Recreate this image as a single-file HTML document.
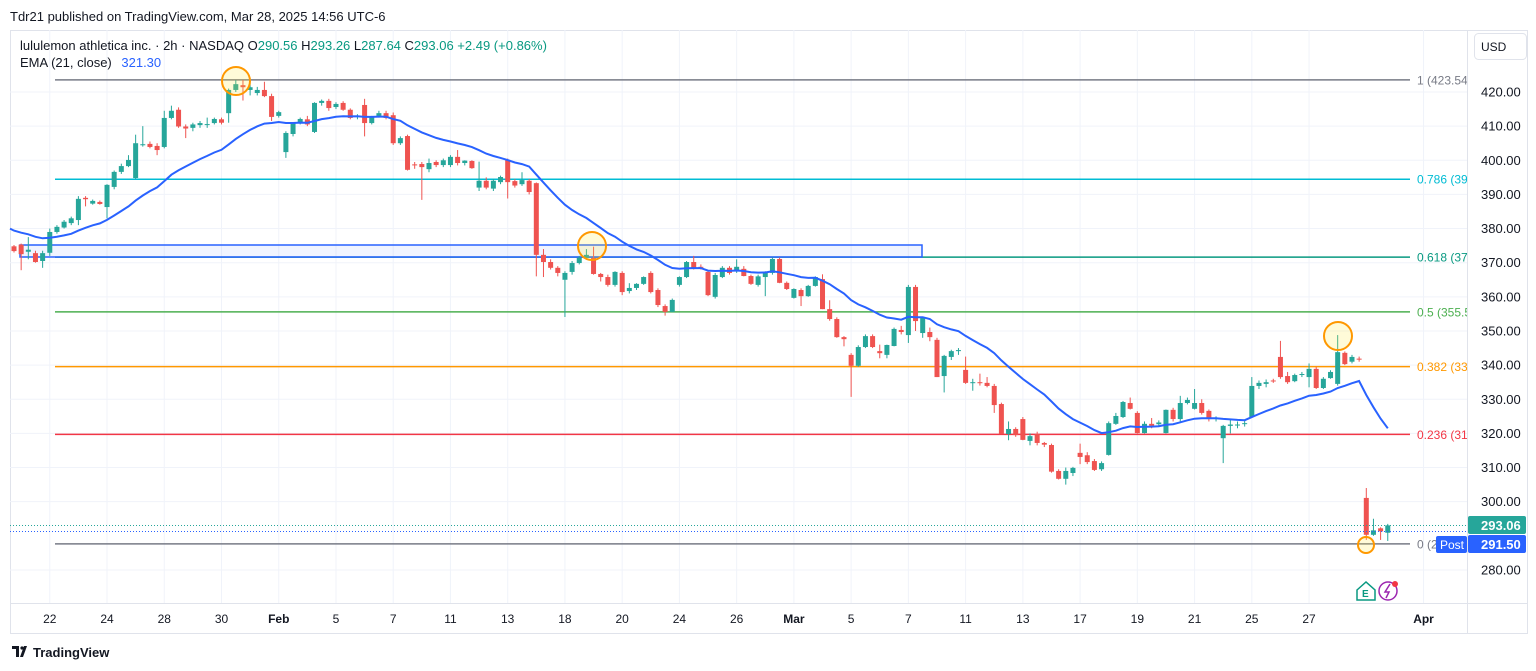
<!DOCTYPE html>
<html><head><meta charset="utf-8">
<style>
html,body{margin:0;padding:0;background:#fff;width:1536px;height:671px;overflow:hidden;font-family:"Liberation Sans",sans-serif;}
svg text{font-family:"Liberation Sans",sans-serif;}
</style></head>
<body>
<svg id="chart" width="1536" height="671" viewBox="0 0 1536 671" xmlns="http://www.w3.org/2000/svg">
<defs><clipPath id="pane"><rect x="10" y="30" width="1457" height="573"/></clipPath></defs>
<rect x="0" y="0" width="1536" height="671" fill="#fff"/>
<text x="10" y="21" font-size="13" fill="#131722">Tdr21 published on TradingView.com, Mar 28, 2025 14:56 UTC-6</text>
<rect x="10.5" y="30.5" width="1517" height="603" fill="none" stroke="#e0e3eb"/>
<g id="grid"></g>
<g id="fib" clip-path="url(#pane)"></g>
<rect x="20" y="245" width="902" height="12" fill="#2962ff" fill-opacity="0.07" stroke="#2962ff" stroke-width="1.5"/>
<g id="candles"></g>
<path id="ema" fill="none" stroke="#2962ff" stroke-width="2"/>
<g id="circles"></g>
<line x1="10" x2="1467" y1="525.5" y2="525.5" stroke="#26a69a" stroke-dasharray="1,2"/>
<line x1="10" x2="1467" y1="531.5" y2="531.5" stroke="#2962ff" stroke-dasharray="1,2"/>
<line x1="1467.5" x2="1467.5" y1="30" y2="633" stroke="#e0e3eb"/>
<line x1="10" x2="1527" y1="603.5" y2="603.5" stroke="#e0e3eb"/>
<g id="yaxis"></g>
<g id="xaxis"></g>
<rect x="1474.5" y="33.5" width="52" height="26" rx="4" fill="#fff" stroke="#e0e3eb"/>
<text x="1481" y="51" font-size="12" fill="#131722">USD</text>
<rect x="1468" y="516" width="58" height="18" rx="2" fill="#26a69a"/>
<text x="1481" y="530" font-size="13" font-weight="bold" fill="#fff">293.06</text>
<rect x="1436" y="536" width="31" height="17" rx="2" fill="#2962ff"/>
<text x="1440" y="549" font-size="12" fill="#fff">Post</text>
<rect x="1468" y="535" width="58" height="18" rx="2" fill="#2962ff"/>
<text x="1481" y="549" font-size="13" font-weight="bold" fill="#fff">291.50</text>
<g>
<path d="M1357 590 L1366 582 L1375 590 L1375 600 L1357 600 Z" fill="#fff" stroke="#089981" stroke-width="1.5"/>
<text x="1362" y="597" font-size="10" font-weight="bold" fill="#089981">E</text></g>
<g>
<circle cx="1388" cy="591" r="9" fill="#fff" stroke="#9c27b0" stroke-width="1.5"/>
<path d="M1390 584 L1385 592 L1389 592 L1386 598" fill="none" stroke="#9c27b0" stroke-width="1.5"/>
<circle cx="1395" cy="584" r="3" fill="#f23645"/></g>
<text x="20" y="50" font-size="13" fill="#131722">lululemon athletica inc. · 2h · NASDAQ <tspan fill="#131722">O</tspan><tspan fill="#089981">290.56</tspan> <tspan fill="#131722">H</tspan><tspan fill="#089981">293.26</tspan> <tspan fill="#131722">L</tspan><tspan fill="#089981">287.64</tspan> <tspan fill="#131722">C</tspan><tspan fill="#089981">293.06 +2.49 (+0.86%)</tspan></text>
<text x="20" y="67" font-size="13" fill="#131722">EMA (21, close) <tspan fill="#2962ff" dx="6">321.30</tspan></text>
<g>
<path d="M12 646 h7 v11 h-3 v-8 h-4 Z M20 657 l4 -11 h3 l-4 11 Z" fill="#131722"/>
<circle cx="22" cy="648" r="1.6" fill="#131722"/>
<text x="33" y="657" font-size="13" font-weight="bold" fill="#131722">TradingView</text></g>
</svg>
<script>
const opens=[374.8,375.3,373.2,372.8,370.5,372.9,379,380.3,381.6,382.5,389,387.3,387.8,386.3,392.2,396.6,398.3,394.8,404.4,404.8,404.2,403.9,412.4,414.8,409.9,409.5,410.3,410.4,410.9,412,413.8,420.6,422,420.6,419.7,420.6,418.8,413,402.4,407.7,410.9,412,408.3,416.8,417.4,415.6,416.8,414.8,412.7,416.2,410.9,413,413.8,413.2,405,407.1,398.8,398.9,397.4,399.5,398.6,398.6,401,399.2,399.8,392,394,391.7,393.6,400.1,393.9,393,394,393.3,372.3,370.2,368.5,365,367.3,369.9,371.4,371.4,366.7,365.8,363.5,367,361.7,362.6,363.8,367,362,357.3,355.6,363.5,365.8,370.2,368.8,367.3,360,365.8,368.5,367.5,368.2,366.1,363.5,365.8,367,371.1,364.1,359.7,362,360.2,363.2,365.2,356.4,353.5,348.2,343,339.8,345.3,348.5,344.1,343,345.6,350.3,348.8,362.9,349.4,349.7,347.4,336.8,342.4,344.1,338.6,334.8,335,334.8,333.9,328.6,319.8,321.3,324.2,317.8,319.8,317.2,316.6,309,306.7,308.4,314.3,313.6,311.9,309.5,313.7,322.8,324.8,328.9,326,320.1,322.8,322.7,320.1,326.9,324.2,328.9,327.2,328.9,326.6,324.2,318.6,322.2,322.4,322.8,324.8,333.9,334.5,335.5,342.4,336.8,335.3,337.2,336.5,338.9,333.3,336.2,334.5,343.6,341,341.9,301.1,290.3,292.2,290.9];
const highs=[375.2,375.6,377.5,373.5,373.5,380,381,382.5,383.5,389.5,389.5,388.5,388.2,393,397,399,401.5,407.5,410,405.5,405,414.5,416,415.5,410.5,411,411.5,412.5,412.5,412.5,421,423.5,423.5,422.5,421.5,423,419.5,414.5,408.5,411,412.5,413,417,417.8,418,417,417.3,415.2,413.5,418,413,414.5,414.5,414,407,407.5,399.5,399.5,400.5,400,400.5,401.5,403,400,400,399.6,395,394.5,395.5,400.5,394.5,396.5,394.5,393.5,374,371,369,367.5,370.5,372,374,374.7,367,366.5,367.5,367.5,364,364,366,367.5,362.5,357.8,359.5,366,370.5,372,369.5,367.5,367,369,369,371,369,366.5,366.5,367.5,371.5,371.5,364.5,362.5,362.5,363.5,366,366.6,359,354,348.5,343.5,345.8,349,349,346,346,351,351.5,363.5,363.5,354,351,348,343,344.5,345,342.5,336,337.5,336.5,334.5,329,323.5,321.8,324.8,320,320.5,317.5,317,309.5,310,310.2,317,314.5,312.5,311.8,323.5,326,329.5,330.5,326.5,323.5,324.5,323.8,327,327.5,331,330.5,333,330,327,325,322.5,324,323.5,324,336.5,335.5,335.8,336,347.1,338,337.5,338,340.5,339.5,336.5,338.5,348.8,344,343,342.5,304,295,292.5,293.5];
const lows=[373,367.8,371,370,368.5,372,378.5,380,381,381,386.5,387,387,383,391.5,396,398,394.5,404,403.5,401.5,403.5,412,409.5,406.5,408.5,409.5,409.5,410.5,410.5,411,420,417.5,419,419,418.5,411.5,412.5,400.7,407,410.5,410,408,416,414.5,415,414.5,412,412,407,410.5,412.5,412,404.5,404.5,397,397.5,388.4,396.5,398,398,398,398.5,398.5,397.5,391,391.5,391,393,388.8,392,392.5,390,366,365.8,368,366,354.1,366.5,369.5,371,366.5,364.5,363,363,360.5,361,362,363.5,361,357,354.5,355.5,363,365.5,368,368,360.2,359.5,365.5,366.5,367,366,363.5,363,360.2,366.5,364,362,359.5,357.3,360,363,356.4,353,348,345.5,330.7,339.5,345,345,342,342,345.5,349,346.5,350,348,347,336.5,332,341.5,343,334.5,332.5,334,333.5,326,319.8,318,319,318,316.5,316.5,316,308.5,306.5,305,307.5,311,311,309,309,313.5,322.5,324.5,327,320,320,321.5,322,320,323.5,323.5,328.5,327,325.5,323.5,323.5,311.3,320,321.5,322,324.5,333,333.5,334.8,336,334.5,335,336.5,333.5,333,333,336,334,340,340.5,341,288.8,290,288.8,288.5];
const closes=[373.4,372.5,373.8,370.2,372.8,379,380.5,382,383,388.7,388.6,388.1,387.2,392.8,396.6,398.3,400.1,405,404.7,403.9,403,412.4,414.5,409.9,409.3,410.5,410.9,410.6,412.1,411,420.6,422.3,421.4,421.4,420.6,418.8,412.7,414.1,408,410.9,412.1,410.5,416.8,417.4,415.3,416.5,414.8,412.4,413,410.9,412.7,413.8,412.4,405,406.5,397.2,398.5,398,399.2,398.6,400,401,399.2,399.9,397.7,394,392,394,395.1,393.6,392.6,394.2,390.7,372.3,370.2,368.5,367,367,369.9,371.4,372.3,366.7,365.8,363.5,367.3,361.4,362.6,363.8,365.8,361.4,357.6,355.6,359.1,365.8,370.2,368.5,368.5,360.5,366.4,368.5,367,368.8,366.1,363.8,366,367.3,371.1,364.1,362.3,362.3,360.2,363.2,365.8,356.4,353.5,348.2,347.6,339.8,345.3,348.5,345.3,343.5,345.9,350.6,349.7,362.9,352.9,353.8,348.2,336.5,342.7,344.1,344.4,334.8,335,334.7,333.9,328.3,319.8,321.3,319.5,318.1,319.2,317.2,316.7,308.8,306.7,309,309.9,313.1,311.6,309.3,311.3,323,325.1,329.2,327.2,320.1,322.8,322.2,323.2,326.9,324.2,328.9,329.8,328.9,326,324.2,324.5,322.2,322.6,322.6,323,333.9,334.8,335,335.3,336.5,335,337.1,337.4,338.9,333.3,336,338,343.8,340.3,342.4,341.6,290.3,291.6,291.3,293.06];
const emaSeed=[380];
const fibRatios=[1,0.786,0.618,0.5,0.382,0.236,0];
const fibHigh=[423.54];
const fibLow=[287.64];
const priceTicks=[420,410,400,390,380,370,360,350,340,330,320,310,300,280];
const dateLabels=["22","24","28","30","Feb","5","7","11","13","18","20","24","26","Mar","5","7","11","13","17","19","21","25","27","Apr"];
const dateBarIdx=[5,13,21,29,37,45,53,61,69,77,85,93,101,109,117,125,133,141,149,157,165,173,181,197];

const NS="http://www.w3.org/2000/svg";
const yOf=p=>92+(420-p)*3.414;
const xOf=i=>14+i*7.155;
function mk(tag,attrs,parent){const e=document.createElementNS(NS,tag);for(const k in attrs)e.setAttribute(k,attrs[k]);parent.appendChild(e);return e;}
const grid=document.getElementById('grid'),yax=document.getElementById('yaxis'),xax=document.getElementById('xaxis');
priceTicks.forEach(p=>{
  const l=mk('line',{x1:10,x2:1467,y1:yOf(p),y2:yOf(p),stroke:'#f0f3fa'},grid);
  
  
  const t=mk('text',{x:1481,y:yOf(p)+4.5,'font-size':13,fill:'#131722'},yax);
  t.textContent=p.toFixed(2);
  
  
});
dateLabels.forEach((d,k)=>{
  const x=xOf(dateBarIdx[k]);
  const l=mk('line',{x1:x,x2:x,y1:30,y2:603,stroke:'#f0f3fa'},grid);
  
  
  const bold=(d==='Feb'||d==='Mar'||d==='Apr');
  const t=mk('text',{x:x,y:623,'font-size':12,fill:'#131722','text-anchor':'middle','font-weight':bold?'bold':'normal'},xax);
  t.textContent=d;
  
  
});
const fib=document.getElementById('fib');
const fibColors=['#787b86','#00bcd4','#089981','#4caf50','#ff9800','#f23645','#787b86'];
fibRatios.forEach((r,k)=>{
  const p=fibLow[0]+r*(fibHigh[0]-fibLow[0]);
  const y=yOf(p);
  const l=mk('line',{x1:55,x2:1410,y1:y,y2:y,stroke:fibColors[k],'stroke-width':1.5},fib);
  
  
  const t=mk('text',{x:1417,y:y+4.5,'font-size':12,fill:fibColors[k]},fib);
  t.textContent=r+' ('+p.toFixed(2)+')';
  
  
});
const cg=document.getElementById('candles');
let ema=emaSeed[0];const a=2/22;let d='';
closes.forEach((c,i)=>{
  const o=opens[i],h=highs[i],lo=lows[i];
  const up=c>=o;const col=up?'#26a69a':'#ef5350';
  const x=xOf(i);
  const g=mk('g',{},cg);
  
  
  mk('line',{x1:x,x2:x,y1:yOf(h),y2:yOf(lo),stroke:col,'stroke-width':1},g);
  const yt=yOf(Math.max(o,c)),yb=yOf(Math.min(o,c));
  mk('rect',{x:x-2.5,y:yt,width:5,height:Math.max(1,yb-yt),fill:col},g);
  ema=ema+a*(c-ema);
  d+='L'+x.toFixed(1)+' '+yOf(ema).toFixed(1)+' ';
});
document.getElementById('ema').setAttribute('d','M10 '+yOf(emaSeed[0]).toFixed(1)+' '+d);
const cc=document.getElementById('circles');
[[236,81,14],[592,246,14],[1338,336,14],[1366,545,8]].forEach(c=>{
  const e=mk('circle',{cx:c[0],cy:c[1],r:c[2],fill:'#ffeb3b','fill-opacity':0.2,stroke:'#ff9800','stroke-width':2},cc);
  
  
});
</script>
</body></html>
